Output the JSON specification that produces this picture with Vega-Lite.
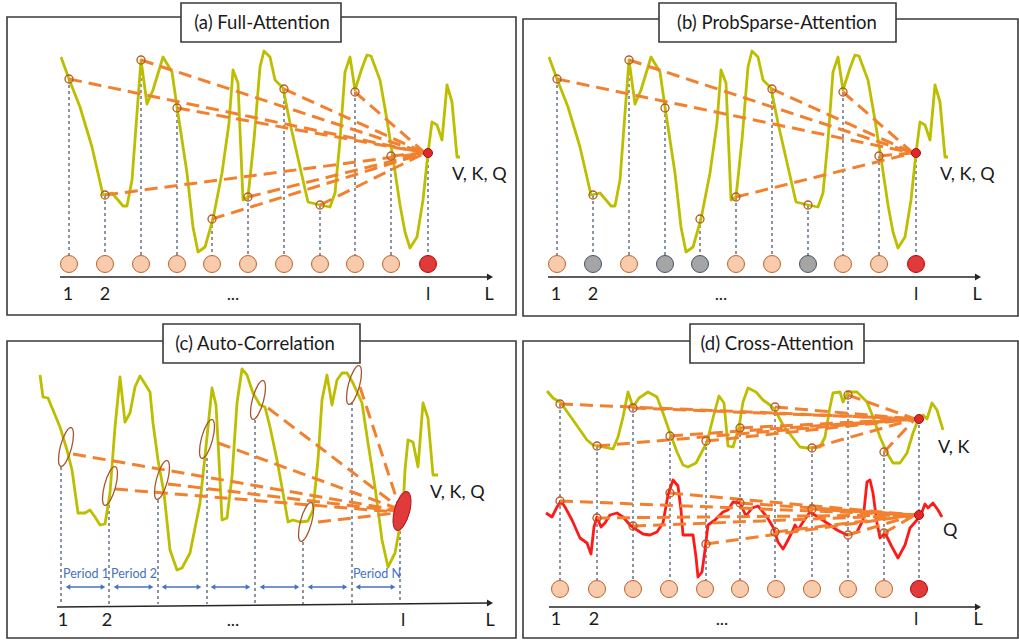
{
"$schema": "https://vega.github.io/schema/vega-lite/v6.json",
"width": 1019, "height": 643, "padding": 0, "autosize": {"type": "none"},
"background": "white",
"config": {"view": {"stroke": null}},
"datasets": {
"frames": [
{"x":7,"x2":516,"y":17,"y2":315},{"x":523,"x2":1018,"y":19,"y2":316},
{"x":7,"x2":516,"y":341,"y2":638},{"x":523,"x2":1018,"y":341,"y2":638}],
"boxes": [
{"x":181,"x2":341,"y":3,"y2":42},{"x":659,"x2":896,"y":3,"y2":42},
{"x":163,"x2":360,"y":324,"y2":363},{"x":690,"x2":864,"y":324,"y2":363}],
"titles": [
{"x":262,"y":23,"t":"(a) Full-Attention"},{"x":777,"y":23,"t":"(b) ProbSparse-Attention"},
{"x":255,"y":344,"t":"(c) Auto-Correlation"},{"x":777,"y":344,"t":"(d) Cross-Attention"}],
"vlines": [
{"x":69,"y":79,"y2":256},{"x":105,"y":195,"y2":256},{"x":141,"y":60,"y2":256},{"x":177,"y":108,"y2":256},{"x":212,"y":219,"y2":256},{"x":248,"y":197,"y2":256},{"x":284,"y":89,"y2":256},{"x":320,"y":205,"y2":256},{"x":355,"y":92,"y2":256},{"x":391,"y":156,"y2":256},{"x":428,"y":153,"y2":256},
{"x":557,"y":79,"y2":256},{"x":593,"y":195,"y2":256},{"x":629,"y":60,"y2":256},{"x":665,"y":108,"y2":256},{"x":700,"y":219,"y2":256},{"x":736,"y":197,"y2":256},{"x":772,"y":89,"y2":256},{"x":808,"y":205,"y2":256},{"x":843,"y":92,"y2":256},{"x":879,"y":156,"y2":256},{"x":916,"y":153,"y2":256},
{"x":61,"y":467,"y2":604},{"x":109,"y":505,"y2":604},{"x":158,"y":500,"y2":604},{"x":207,"y":458,"y2":604},{"x":255,"y":420,"y2":604},{"x":303,"y":542,"y2":604},{"x":352,"y":402,"y2":604},{"x":400,"y":531,"y2":604},
{"x":560,"y":404,"y2":580},{"x":597,"y":446,"y2":580},{"x":633,"y":408,"y2":580},{"x":670,"y":436,"y2":580},{"x":706,"y":441,"y2":580},{"x":740,"y":428,"y2":580},{"x":775,"y":407,"y2":580},{"x":812,"y":448,"y2":580},{"x":848,"y":395,"y2":580},{"x":884,"y":452,"y2":580},{"x":919,"y":419,"y2":580}],
"curves": [
{"id":"a","s":"kv","x":61,"y":57},{"id":"a","s":"kv","x":69,"y":79},{"id":"a","s":"kv","x":80,"y":107},{"id":"a","s":"kv","x":92,"y":147},{"id":"a","s":"kv","x":103,"y":195},{"id":"a","s":"kv","x":112,"y":193},{"id":"a","s":"kv","x":118,"y":200},{"id":"a","s":"kv","x":123,"y":206},{"id":"a","s":"kv","x":127,"y":206},{"id":"a","s":"kv","x":132,"y":180},{"id":"a","s":"kv","x":137,"y":113},{"id":"a","s":"kv","x":141,"y":60},{"id":"a","s":"kv","x":147,"y":104},{"id":"a","s":"kv","x":153,"y":90},{"id":"a","s":"kv","x":163,"y":57},{"id":"a","s":"kv","x":172,"y":72},{"id":"a","s":"kv","x":177,"y":107},{"id":"a","s":"kv","x":187,"y":173},{"id":"a","s":"kv","x":193,"y":227},{"id":"a","s":"kv","x":198,"y":252},{"id":"a","s":"kv","x":205,"y":247},{"id":"a","s":"kv","x":213,"y":219},{"id":"a","s":"kv","x":222,"y":173},{"id":"a","s":"kv","x":229,"y":123},{"id":"a","s":"kv","x":233,"y":70},{"id":"a","s":"kv","x":238,"y":83},{"id":"a","s":"kv","x":243,"y":200},{"id":"a","s":"kv","x":248,"y":197},{"id":"a","s":"kv","x":254,"y":140},{"id":"a","s":"kv","x":260,"y":67},{"id":"a","s":"kv","x":264,"y":51},{"id":"a","s":"kv","x":270,"y":57},{"id":"a","s":"kv","x":275,"y":80},{"id":"a","s":"kv","x":283,"y":88},{"id":"a","s":"kv","x":290,"y":123},{"id":"a","s":"kv","x":300,"y":167},{"id":"a","s":"kv","x":308,"y":202},{"id":"a","s":"kv","x":320,"y":205},{"id":"a","s":"kv","x":330,"y":207},{"id":"a","s":"kv","x":335,"y":193},{"id":"a","s":"kv","x":340,"y":140},{"id":"a","s":"kv","x":345,"y":72},{"id":"a","s":"kv","x":350,"y":57},{"id":"a","s":"kv","x":355,"y":90},{"id":"a","s":"kv","x":362,"y":68},{"id":"a","s":"kv","x":367,"y":55},{"id":"a","s":"kv","x":371,"y":56},{"id":"a","s":"kv","x":380,"y":80},{"id":"a","s":"kv","x":387,"y":120},{"id":"a","s":"kv","x":393,"y":158},{"id":"a","s":"kv","x":400,"y":205},{"id":"a","s":"kv","x":405,"y":232},{"id":"a","s":"kv","x":410,"y":248},{"id":"a","s":"kv","x":417,"y":237},{"id":"a","s":"kv","x":423,"y":200},{"id":"a","s":"kv","x":428,"y":153},{"id":"a","s":"kv","x":432,"y":122},{"id":"a","s":"kv","x":437,"y":125},{"id":"a","s":"kv","x":442,"y":140},{"id":"a","s":"kv","x":447,"y":85},{"id":"a","s":"kv","x":452,"y":102},{"id":"a","s":"kv","x":457,"y":157},{"id":"a","s":"kv","x":460,"y":157},
{"id":"b","s":"kv","x":549,"y":57},{"id":"b","s":"kv","x":557,"y":79},{"id":"b","s":"kv","x":568,"y":107},{"id":"b","s":"kv","x":580,"y":147},{"id":"b","s":"kv","x":591,"y":195},{"id":"b","s":"kv","x":600,"y":193},{"id":"b","s":"kv","x":606,"y":200},{"id":"b","s":"kv","x":611,"y":206},{"id":"b","s":"kv","x":615,"y":206},{"id":"b","s":"kv","x":620,"y":180},{"id":"b","s":"kv","x":625,"y":113},{"id":"b","s":"kv","x":629,"y":60},{"id":"b","s":"kv","x":635,"y":104},{"id":"b","s":"kv","x":641,"y":90},{"id":"b","s":"kv","x":651,"y":57},{"id":"b","s":"kv","x":660,"y":72},{"id":"b","s":"kv","x":665,"y":107},{"id":"b","s":"kv","x":675,"y":173},{"id":"b","s":"kv","x":681,"y":227},{"id":"b","s":"kv","x":686,"y":252},{"id":"b","s":"kv","x":693,"y":247},{"id":"b","s":"kv","x":701,"y":219},{"id":"b","s":"kv","x":710,"y":173},{"id":"b","s":"kv","x":717,"y":123},{"id":"b","s":"kv","x":721,"y":70},{"id":"b","s":"kv","x":726,"y":83},{"id":"b","s":"kv","x":731,"y":200},{"id":"b","s":"kv","x":736,"y":197},{"id":"b","s":"kv","x":742,"y":140},{"id":"b","s":"kv","x":748,"y":67},{"id":"b","s":"kv","x":752,"y":51},{"id":"b","s":"kv","x":758,"y":57},{"id":"b","s":"kv","x":763,"y":80},{"id":"b","s":"kv","x":771,"y":88},{"id":"b","s":"kv","x":778,"y":123},{"id":"b","s":"kv","x":788,"y":167},{"id":"b","s":"kv","x":796,"y":202},{"id":"b","s":"kv","x":808,"y":205},{"id":"b","s":"kv","x":818,"y":207},{"id":"b","s":"kv","x":823,"y":193},{"id":"b","s":"kv","x":828,"y":140},{"id":"b","s":"kv","x":833,"y":72},{"id":"b","s":"kv","x":838,"y":57},{"id":"b","s":"kv","x":843,"y":90},{"id":"b","s":"kv","x":850,"y":68},{"id":"b","s":"kv","x":855,"y":55},{"id":"b","s":"kv","x":859,"y":56},{"id":"b","s":"kv","x":868,"y":80},{"id":"b","s":"kv","x":875,"y":120},{"id":"b","s":"kv","x":881,"y":158},{"id":"b","s":"kv","x":888,"y":205},{"id":"b","s":"kv","x":893,"y":232},{"id":"b","s":"kv","x":898,"y":248},{"id":"b","s":"kv","x":905,"y":237},{"id":"b","s":"kv","x":911,"y":200},{"id":"b","s":"kv","x":916,"y":153},{"id":"b","s":"kv","x":920,"y":122},{"id":"b","s":"kv","x":925,"y":125},{"id":"b","s":"kv","x":930,"y":140},{"id":"b","s":"kv","x":935,"y":85},{"id":"b","s":"kv","x":940,"y":102},{"id":"b","s":"kv","x":945,"y":157},{"id":"b","s":"kv","x":948,"y":157},
{"id":"c","s":"kv","x":40,"y":375},{"id":"c","s":"kv","x":43,"y":397},{"id":"c","s":"kv","x":48,"y":398},{"id":"c","s":"kv","x":60,"y":427},{"id":"c","s":"kv","x":67,"y":450},{"id":"c","s":"kv","x":72,"y":470},{"id":"c","s":"kv","x":78,"y":513},{"id":"c","s":"kv","x":85,"y":513},{"id":"c","s":"kv","x":90,"y":510},{"id":"c","s":"kv","x":95,"y":517},{"id":"c","s":"kv","x":100,"y":525},{"id":"c","s":"kv","x":105,"y":524},{"id":"c","s":"kv","x":110,"y":493},{"id":"c","s":"kv","x":115,"y":427},{"id":"c","s":"kv","x":120,"y":377},{"id":"c","s":"kv","x":125,"y":422},{"id":"c","s":"kv","x":130,"y":413},{"id":"c","s":"kv","x":135,"y":387},{"id":"c","s":"kv","x":140,"y":376},{"id":"c","s":"kv","x":150,"y":392},{"id":"c","s":"kv","x":153,"y":423},{"id":"c","s":"kv","x":158,"y":460},{"id":"c","s":"kv","x":164,"y":493},{"id":"c","s":"kv","x":170,"y":550},{"id":"c","s":"kv","x":177,"y":570},{"id":"c","s":"kv","x":182,"y":568},{"id":"c","s":"kv","x":190,"y":553},{"id":"c","s":"kv","x":200,"y":503},{"id":"c","s":"kv","x":207,"y":437},{"id":"c","s":"kv","x":212,"y":388},{"id":"c","s":"kv","x":216,"y":405},{"id":"c","s":"kv","x":219,"y":460},{"id":"c","s":"kv","x":222,"y":520},{"id":"c","s":"kv","x":227,"y":518},{"id":"c","s":"kv","x":232,"y":477},{"id":"c","s":"kv","x":237,"y":403},{"id":"c","s":"kv","x":242,"y":369},{"id":"c","s":"kv","x":247,"y":375},{"id":"c","s":"kv","x":253,"y":393},{"id":"c","s":"kv","x":260,"y":405},{"id":"c","s":"kv","x":265,"y":407},{"id":"c","s":"kv","x":270,"y":427},{"id":"c","s":"kv","x":277,"y":460},{"id":"c","s":"kv","x":283,"y":493},{"id":"c","s":"kv","x":288,"y":522},{"id":"c","s":"kv","x":293,"y":520},{"id":"c","s":"kv","x":300,"y":522},{"id":"c","s":"kv","x":308,"y":521},{"id":"c","s":"kv","x":313,"y":510},{"id":"c","s":"kv","x":318,"y":460},{"id":"c","s":"kv","x":322,"y":400},{"id":"c","s":"kv","x":327,"y":375},{"id":"c","s":"kv","x":332,"y":405},{"id":"c","s":"kv","x":337,"y":380},{"id":"c","s":"kv","x":342,"y":373},{"id":"c","s":"kv","x":347,"y":373},{"id":"c","s":"kv","x":353,"y":383},{"id":"c","s":"kv","x":362,"y":403},{"id":"c","s":"kv","x":368,"y":443},{"id":"c","s":"kv","x":375,"y":487},{"id":"c","s":"kv","x":382,"y":540},{"id":"c","s":"kv","x":388,"y":567},{"id":"c","s":"kv","x":395,"y":553},{"id":"c","s":"kv","x":403,"y":510},{"id":"c","s":"kv","x":405,"y":470},{"id":"c","s":"kv","x":408,"y":440},{"id":"c","s":"kv","x":413,"y":442},{"id":"c","s":"kv","x":418,"y":467},{"id":"c","s":"kv","x":423,"y":403},{"id":"c","s":"kv","x":428,"y":418},{"id":"c","s":"kv","x":433,"y":475},{"id":"c","s":"kv","x":438,"y":475},
{"id":"d","s":"kv","x":547,"y":391},{"id":"d","s":"kv","x":553,"y":398},{"id":"d","s":"kv","x":561,"y":403},{"id":"d","s":"kv","x":573,"y":420},{"id":"d","s":"kv","x":587,"y":440},{"id":"d","s":"kv","x":593,"y":445},{"id":"d","s":"kv","x":603,"y":447},{"id":"d","s":"kv","x":613,"y":449},{"id":"d","s":"kv","x":618,"y":437},{"id":"d","s":"kv","x":623,"y":417},{"id":"d","s":"kv","x":628,"y":392},{"id":"d","s":"kv","x":633,"y":407},{"id":"d","s":"kv","x":639,"y":398},{"id":"d","s":"kv","x":648,"y":392},{"id":"d","s":"kv","x":657,"y":397},{"id":"d","s":"kv","x":663,"y":413},{"id":"d","s":"kv","x":670,"y":433},{"id":"d","s":"kv","x":677,"y":452},{"id":"d","s":"kv","x":683,"y":465},{"id":"d","s":"kv","x":688,"y":467},{"id":"d","s":"kv","x":696,"y":463},{"id":"d","s":"kv","x":707,"y":442},{"id":"d","s":"kv","x":713,"y":418},{"id":"d","s":"kv","x":719,"y":396},{"id":"d","s":"kv","x":724,"y":403},{"id":"d","s":"kv","x":728,"y":446},{"id":"d","s":"kv","x":733,"y":447},{"id":"d","s":"kv","x":739,"y":427},{"id":"d","s":"kv","x":743,"y":402},{"id":"d","s":"kv","x":748,"y":388},{"id":"d","s":"kv","x":756,"y":392},{"id":"d","s":"kv","x":763,"y":400},{"id":"d","s":"kv","x":770,"y":405},{"id":"d","s":"kv","x":775,"y":410},{"id":"d","s":"kv","x":783,"y":425},{"id":"d","s":"kv","x":793,"y":438},{"id":"d","s":"kv","x":800,"y":447},{"id":"d","s":"kv","x":807,"y":448},{"id":"d","s":"kv","x":820,"y":447},{"id":"d","s":"kv","x":825,"y":437},{"id":"d","s":"kv","x":830,"y":407},{"id":"d","s":"kv","x":833,"y":393},{"id":"d","s":"kv","x":840,"y":392},{"id":"d","s":"kv","x":843,"y":402},{"id":"d","s":"kv","x":848,"y":392},{"id":"d","s":"kv","x":857,"y":392},{"id":"d","s":"kv","x":867,"y":402},{"id":"d","s":"kv","x":873,"y":417},{"id":"d","s":"kv","x":880,"y":437},{"id":"d","s":"kv","x":887,"y":453},{"id":"d","s":"kv","x":893,"y":463},{"id":"d","s":"kv","x":900,"y":463},{"id":"d","s":"kv","x":907,"y":453},{"id":"d","s":"kv","x":913,"y":433},{"id":"d","s":"kv","x":918,"y":420},{"id":"d","s":"kv","x":923,"y":415},{"id":"d","s":"kv","x":927,"y":419},{"id":"d","s":"kv","x":932,"y":403},{"id":"d","s":"kv","x":937,"y":410},{"id":"d","s":"kv","x":943,"y":430},
{"id":"q","s":"q","x":546,"y":513},{"id":"q","s":"q","x":552,"y":517},{"id":"q","s":"q","x":557,"y":507},{"id":"q","s":"q","x":561,"y":501},{"id":"q","s":"q","x":565,"y":507},{"id":"q","s":"q","x":572,"y":520},{"id":"q","s":"q","x":580,"y":538},{"id":"q","s":"q","x":587,"y":543},{"id":"q","s":"q","x":591,"y":554},{"id":"q","s":"q","x":594,"y":527},{"id":"q","s":"q","x":597,"y":517},{"id":"q","s":"q","x":601,"y":527},{"id":"q","s":"q","x":605,"y":523},{"id":"q","s":"q","x":610,"y":515},{"id":"q","s":"q","x":617,"y":513},{"id":"q","s":"q","x":623,"y":517},{"id":"q","s":"q","x":630,"y":525},{"id":"q","s":"q","x":637,"y":530},{"id":"q","s":"q","x":643,"y":534},{"id":"q","s":"q","x":650,"y":535},{"id":"q","s":"q","x":657,"y":532},{"id":"q","s":"q","x":663,"y":523},{"id":"q","s":"q","x":668,"y":495},{"id":"q","s":"q","x":673,"y":480},{"id":"q","s":"q","x":678,"y":486},{"id":"q","s":"q","x":681,"y":510},{"id":"q","s":"q","x":683,"y":535},{"id":"q","s":"q","x":688,"y":535},{"id":"q","s":"q","x":693,"y":535},{"id":"q","s":"q","x":696,"y":557},{"id":"q","s":"q","x":698,"y":577},{"id":"q","s":"q","x":702,"y":572},{"id":"q","s":"q","x":705,"y":550},{"id":"q","s":"q","x":708,"y":525},{"id":"q","s":"q","x":715,"y":520},{"id":"q","s":"q","x":723,"y":512},{"id":"q","s":"q","x":728,"y":510},{"id":"q","s":"q","x":733,"y":502},{"id":"q","s":"q","x":740,"y":503},{"id":"q","s":"q","x":746,"y":516},{"id":"q","s":"q","x":752,"y":508},{"id":"q","s":"q","x":758,"y":506},{"id":"q","s":"q","x":767,"y":517},{"id":"q","s":"q","x":773,"y":527},{"id":"q","s":"q","x":778,"y":542},{"id":"q","s":"q","x":783,"y":549},{"id":"q","s":"q","x":787,"y":542},{"id":"q","s":"q","x":792,"y":532},{"id":"q","s":"q","x":795,"y":525},{"id":"q","s":"q","x":798,"y":530},{"id":"q","s":"q","x":803,"y":522},{"id":"q","s":"q","x":810,"y":512},{"id":"q","s":"q","x":818,"y":517},{"id":"q","s":"q","x":827,"y":523},{"id":"q","s":"q","x":837,"y":530},{"id":"q","s":"q","x":847,"y":535},{"id":"q","s":"q","x":857,"y":532},{"id":"q","s":"q","x":863,"y":520},{"id":"q","s":"q","x":867,"y":482},{"id":"q","s":"q","x":870,"y":480},{"id":"q","s":"q","x":873,"y":493},{"id":"q","s":"q","x":877,"y":523},{"id":"q","s":"q","x":880,"y":538},{"id":"q","s":"q","x":885,"y":533},{"id":"q","s":"q","x":892,"y":547},{"id":"q","s":"q","x":898,"y":558},{"id":"q","s":"q","x":905,"y":545},{"id":"q","s":"q","x":910,"y":528},{"id":"q","s":"q","x":917,"y":520},{"id":"q","s":"q","x":922,"y":512},{"id":"q","s":"q","x":925,"y":504},{"id":"q","s":"q","x":928,"y":508},{"id":"q","s":"q","x":933,"y":503},{"id":"q","s":"q","x":938,"y":510},{"id":"q","s":"q","x":942,"y":517}],
"edges": [
{"x":69,"y":79,"x2":425,"y2":153},{"x":105,"y":195,"x2":425,"y2":153},{"x":141,"y":60,"x2":425,"y2":153},{"x":177,"y":108,"x2":425,"y2":153},{"x":212,"y":219,"x2":425,"y2":153},{"x":248,"y":197,"x2":425,"y2":153},{"x":284,"y":89,"x2":425,"y2":153},{"x":320,"y":205,"x2":425,"y2":153},{"x":355,"y":92,"x2":425,"y2":153},{"x":391,"y":156,"x2":425,"y2":153},
{"x":557,"y":79,"x2":913,"y2":153},{"x":629,"y":60,"x2":913,"y2":153},{"x":736,"y":197,"x2":913,"y2":153},{"x":772,"y":89,"x2":913,"y2":153},{"x":843,"y":92,"x2":913,"y2":153},{"x":879,"y":156,"x2":913,"y2":153},
{"x":73,"y":454,"x2":396,"y2":510},{"x":115,"y":489,"x2":396,"y2":512},{"x":168,"y":484,"x2":396,"y2":511},{"x":218,"y":443,"x2":396,"y2":508},{"x":268,"y":408,"x2":397,"y2":506},{"x":318,"y":522,"x2":396,"y2":513},{"x":360,"y":387,"x2":398,"y2":503},
{"x":560,"y":404,"x2":915,"y2":419},{"x":597,"y":446,"x2":915,"y2":419},{"x":633,"y":408,"x2":915,"y2":419},{"x":670,"y":436,"x2":915,"y2":419},{"x":706,"y":441,"x2":915,"y2":419},{"x":740,"y":428,"x2":915,"y2":419},{"x":775,"y":407,"x2":915,"y2":419},{"x":812,"y":448,"x2":915,"y2":419},{"x":848,"y":395,"x2":915,"y2":419},{"x":884,"y":452,"x2":915,"y2":419},
{"x":560,"y":501,"x2":915,"y2":515},{"x":597,"y":518,"x2":915,"y2":515},{"x":633,"y":526,"x2":915,"y2":515},{"x":670,"y":493,"x2":915,"y2":515},{"x":706,"y":544,"x2":915,"y2":515},{"x":740,"y":503,"x2":915,"y2":515},{"x":775,"y":532,"x2":915,"y2":515},{"x":812,"y":509,"x2":915,"y2":515},{"x":848,"y":535,"x2":915,"y2":515},{"x":884,"y":533,"x2":915,"y2":515}],
"hollow": [
{"x":69,"y":79},{"x":105,"y":195},{"x":141,"y":60},{"x":177,"y":108},{"x":212,"y":219},{"x":248,"y":197},{"x":284,"y":89},{"x":320,"y":205},{"x":355,"y":92},{"x":391,"y":156},
{"x":557,"y":79},{"x":593,"y":195},{"x":629,"y":60},{"x":665,"y":108},{"x":700,"y":219},{"x":736,"y":197},{"x":772,"y":89},{"x":808,"y":205},{"x":843,"y":92},{"x":879,"y":156},
{"x":560,"y":404},{"x":597,"y":446},{"x":633,"y":408},{"x":670,"y":436},{"x":706,"y":441},{"x":740,"y":428},{"x":775,"y":407},{"x":812,"y":448},{"x":848,"y":395},{"x":884,"y":452},
{"x":560,"y":501},{"x":597,"y":518},{"x":633,"y":526},{"x":670,"y":493},{"x":706,"y":544},{"x":740,"y":503},{"x":775,"y":532},{"x":812,"y":509},{"x":848,"y":535},{"x":884,"y":533}],
"reddots": [{"x":428,"y":153},{"x":916,"y":153},{"x":919,"y":419},{"x":919,"y":515}],
"ellipses": [{"x":66,"y":447},{"x":110,"y":486},{"x":162,"y":480},{"x":207,"y":439},{"x":258,"y":400},{"x":306,"y":522},{"x":354,"y":385}],
"redellipse": [{"x":402,"y":511}],
"nodes": [
{"x":69,"y":264,"k":"n"},{"x":105,"y":264,"k":"n"},{"x":141,"y":264,"k":"n"},{"x":177,"y":264,"k":"n"},{"x":212,"y":264,"k":"n"},{"x":248,"y":264,"k":"n"},{"x":284,"y":264,"k":"n"},{"x":320,"y":264,"k":"n"},{"x":355,"y":264,"k":"n"},{"x":391,"y":264,"k":"n"},{"x":428,"y":264,"k":"r"},
{"x":557,"y":264,"k":"n"},{"x":593,"y":264,"k":"g"},{"x":629,"y":264,"k":"n"},{"x":665,"y":264,"k":"g"},{"x":700,"y":264,"k":"g"},{"x":736,"y":264,"k":"n"},{"x":772,"y":264,"k":"n"},{"x":808,"y":264,"k":"g"},{"x":843,"y":264,"k":"n"},{"x":879,"y":264,"k":"n"},{"x":916,"y":264,"k":"r"},
{"x":560,"y":589,"k":"n"},{"x":597,"y":589,"k":"n"},{"x":633,"y":589,"k":"n"},{"x":669,"y":589,"k":"n"},{"x":705,"y":589,"k":"n"},{"x":740,"y":589,"k":"n"},{"x":776,"y":589,"k":"n"},{"x":812,"y":589,"k":"n"},{"x":848,"y":589,"k":"n"},{"x":884,"y":589,"k":"n"},{"x":919,"y":589,"k":"r"}],
"axes": [{"x":60,"y":277,"x2":490,"y2":277},{"x":548,"y":277,"x2":978,"y2":277},{"x":57,"y":607,"x2":490,"y2":603},{"x":549,"y":607,"x2":978,"y2":607}],
"periods": [{"x":68,"x2":103,"y":587},{"x":116,"x2":151,"y":587},{"x":164,"x2":199,"y":587},{"x":213,"x2":248,"y":587},{"x":262,"x2":297,"y":587},{"x":310,"x2":345,"y":587},{"x":358,"x2":393,"y":587}],
"ticks": [
{"x":68,"y":295,"t":"1"},{"x":105,"y":295,"t":"2"},{"x":233,"y":295,"t":"..."},{"x":428,"y":295,"t":"l"},{"x":489,"y":295,"t":"L"},
{"x":556,"y":295,"t":"1"},{"x":593,"y":295,"t":"2"},{"x":721,"y":295,"t":"..."},{"x":916,"y":295,"t":"l"},{"x":977,"y":295,"t":"L"},
{"x":63,"y":621,"t":"1"},{"x":107,"y":621,"t":"2"},{"x":233,"y":621,"t":"..."},{"x":403,"y":621,"t":"l"},{"x":490,"y":621,"t":"L"},
{"x":556,"y":620,"t":"1"},{"x":594,"y":620,"t":"2"},{"x":722,"y":620,"t":"..."},{"x":916,"y":620,"t":"l"},{"x":978,"y":620,"t":"L"}],
"side": [{"x":452,"y":175,"t":"V, K, Q"},{"x":940,"y":175,"t":"V, K, Q"},{"x":430,"y":493,"t":"V, K, Q"},{"x":938,"y":448,"t":"V, K"},{"x":943,"y":531,"t":"Q"}],
"plabels": [{"x":86,"y":574,"t":"Period 1"},{"x":134,"y":574,"t":"Period 2"},{"x":377,"y":574,"t":"Period N"}]
},
"encoding": {
"x": {"field": "x", "type": "quantitative", "scale": {"domain": [0, 1019], "nice": false, "zero": false}, "axis": null},
"y": {"field": "y", "type": "quantitative", "scale": {"domain": [0, 643], "nice": false, "zero": false, "reverse": true}, "axis": null}
},
"layer": [
{"data": {"name": "frames"}, "mark": {"type": "rect", "fill": "white", "stroke": "#3A3A3A", "strokeWidth": 1.6}, "encoding": {"x2": {"field": "x2"}, "y2": {"field": "y2"}}},
{"data": {"name": "boxes"}, "mark": {"type": "rect", "fill": "white", "stroke": "#3A3A3A", "strokeWidth": 1.6}, "encoding": {"x2": {"field": "x2"}, "y2": {"field": "y2"}}},
{"data": {"name": "titles"}, "mark": {"type": "text", "font": "Lato", "fontSize": 18.5, "color": "#1A1A1A", "baseline": "middle", "align": "center"}, "encoding": {"text": {"field": "t"}}},
{"data": {"name": "vlines"}, "mark": {"type": "rule", "stroke": "#3F4E66", "strokeWidth": 1.2, "strokeDash": [3, 3]}, "encoding": {"y2": {"field": "y2"}}},
{"data": {"name": "curves"}, "mark": {"type": "line", "strokeWidth": 2.8, "strokeJoin": "round"}, "encoding": {"detail": {"field": "id"}, "color": {"field": "s", "type": "nominal", "scale": {"domain": ["kv", "q"], "range": ["#BDBE00", "#FF1A1A"]}, "legend": null}}},
{"data": {"name": "edges"}, "mark": {"type": "rule", "stroke": "#F2802E", "strokeWidth": 3, "strokeDash": [13, 7]}, "encoding": {"x2": {"field": "x2"}, "y2": {"field": "y2"}}},
{"data": {"name": "hollow"}, "mark": {"type": "point", "shape": "circle", "filled": false, "size": 64, "stroke": "#B55A24", "strokeWidth": 1.3, "opacity": 1}},
{"data": {"name": "reddots"}, "mark": {"type": "point", "shape": "circle", "filled": true, "size": 81, "fill": "#E02A2A", "stroke": "#A01010", "strokeWidth": 1, "opacity": 1}},
{"data": {"name": "ellipses"}, "mark": {"type": "point", "shape": "M0,-1A0.28,1 0 1 1 0,1A0.28,1 0 1 1 0,-1Z", "filled": false, "size": 1600, "angle": 15, "stroke": "#A8552A", "strokeWidth": 1.3, "opacity": 1}},
{"data": {"name": "redellipse"}, "mark": {"type": "point", "shape": "M0,-1A0.38,1 0 1 1 0,1A0.38,1 0 1 1 0,-1Z", "filled": true, "size": 1600, "angle": 15, "fill": "#E03A3A", "stroke": "#B01515", "strokeWidth": 1, "opacity": 1}},
{"data": {"name": "nodes"}, "mark": {"type": "point", "shape": "circle", "filled": true, "size": 289, "strokeWidth": 1, "opacity": 1}, "encoding": {"fill": {"field": "k", "type": "nominal", "scale": {"domain": ["n", "g", "r"], "range": ["#F8CBAD", "#A5A5A5", "#E03A3A"]}, "legend": null}, "stroke": {"field": "k", "type": "nominal", "scale": {"domain": ["n", "g", "r"], "range": ["#C0622A", "#44546A", "#C00000"]}, "legend": null}}},
{"data": {"name": "axes"}, "mark": {"type": "rule", "stroke": "#262626", "strokeWidth": 1.5}, "encoding": {"x2": {"field": "x2"}, "y2": {"field": "y2"}}},
{"data": {"name": "axes"}, "mark": {"type": "point", "shape": "triangle-right", "filled": true, "size": 50, "color": "#262626", "opacity": 1}, "encoding": {"x": {"field": "x2", "type": "quantitative"}, "y": {"field": "y2", "type": "quantitative"}}},
{"data": {"name": "periods"}, "mark": {"type": "rule", "stroke": "#4472C4", "strokeWidth": 1.3}, "encoding": {"x2": {"field": "x2"}}},
{"data": {"name": "periods"}, "mark": {"type": "point", "shape": "triangle-left", "filled": true, "size": 28, "color": "#4472C4", "opacity": 1}},
{"data": {"name": "periods"}, "mark": {"type": "point", "shape": "triangle-right", "filled": true, "size": 28, "color": "#4472C4", "opacity": 1}, "encoding": {"x": {"field": "x2", "type": "quantitative"}}},
{"data": {"name": "ticks"}, "mark": {"type": "text", "font": "Lato", "fontSize": 18, "color": "#1A1A1A", "baseline": "middle", "align": "center"}, "encoding": {"text": {"field": "t"}}},
{"data": {"name": "side"}, "mark": {"type": "text", "font": "Lato", "fontSize": 18, "color": "#1A1A1A", "baseline": "middle", "align": "left"}, "encoding": {"text": {"field": "t"}}},
{"data": {"name": "plabels"}, "mark": {"type": "text", "font": "Lato", "fontSize": 12.5, "color": "#4472C4", "baseline": "middle", "align": "center"}, "encoding": {"text": {"field": "t"}}}
]
}
